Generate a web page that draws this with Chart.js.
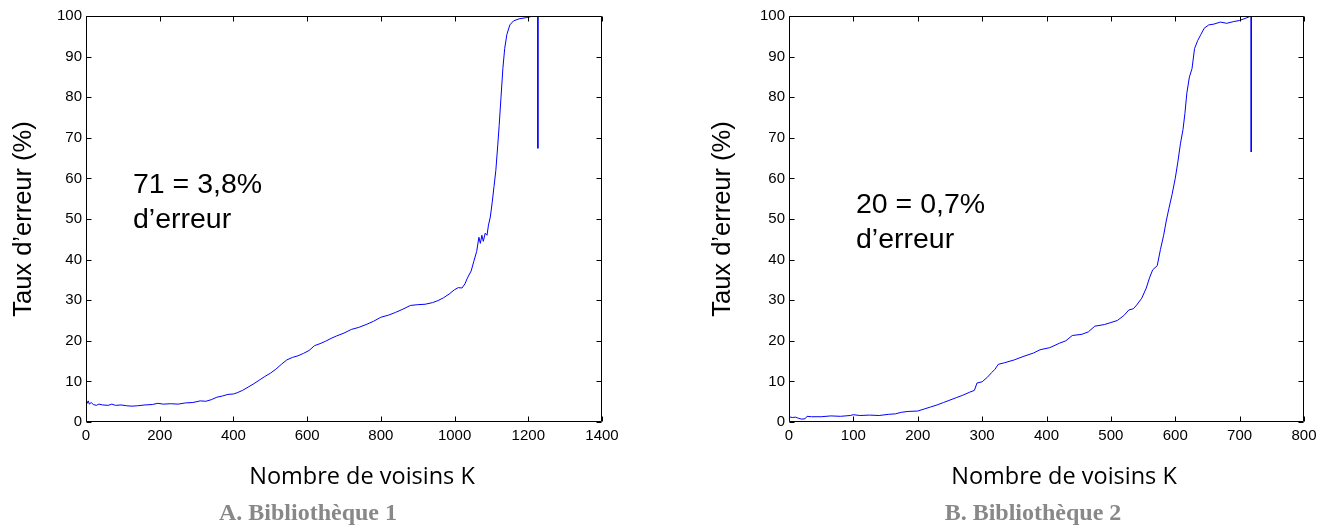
<!DOCTYPE html>
<html>
<head>
<meta charset="utf-8">
<script src="https://cdn.jsdelivr.net/npm/chart.js@4.4.1/dist/chart.umd.min.js"></script>
<style>
  body { margin: 0; background: #fff; }
  .box { position: absolute; top: 0; height: 528px; }
  #boxA { left: 0; width: 640px; }
  #boxB { left: 703px; width: 631px; }
</style>
</head>
<body>
<div class="box" id="boxA"><canvas id="chartA"></canvas></div>
<div class="box" id="boxB"><canvas id="chartB"></canvas></div>
<script>
// Bibliothèque 1
const kA = [0, 3, 6, 9, 14, 20, 28, 35, 45, 60, 70, 80, 95, 110, 125, 140, 160, 180, 195, 210,
  230, 250, 270, 290, 310, 325, 340, 355, 370, 385, 400, 410, 425, 440, 455, 470, 485, 500, 515, 530,
  545, 560, 575, 590, 605, 620, 635, 650, 665, 680, 700, 720, 740, 760, 780, 800, 820, 840, 860, 880,
  900, 920, 940, 955, 970, 985, 1000, 1010, 1020, 1028, 1035, 1045, 1052, 1060, 1066, 1070, 1074, 1078, 1083, 1088,
  1092, 1097, 1102, 1107, 1112, 1117, 1121, 1126, 1131, 1136, 1142, 1150, 1160, 1175, 1195, 1210, 1226, 1226];
const errA = [5.6, 4.6, 5.2, 4.4, 4.8, 4.3, 4.1, 4.4, 4.2, 4.1, 4.4, 4.1, 4.2, 4.0, 3.9, 4.0, 4.2, 4.3, 4.6, 4.4,
  4.5, 4.4, 4.7, 4.8, 5.2, 5.1, 5.5, 6.1, 6.4, 6.8, 6.9, 7.2, 7.8, 8.6, 9.4, 10.3, 11.2, 12.0, 13.0, 14.2,
  15.3, 15.9, 16.3, 16.9, 17.6, 18.8, 19.3, 19.9, 20.6, 21.2, 21.9, 22.8, 23.3, 24.0, 24.8, 25.8, 26.3, 27.0, 27.8, 28.7,
  28.9, 29.0, 29.4, 29.9, 30.6, 31.5, 32.6, 33.1, 33.0, 34.0, 35.5, 37.2, 39.5, 42.0, 45.5, 44.0, 46.0, 44.5, 46.5, 46.0,
  48.5, 50.5, 54.0, 58.0, 62.0, 68.0, 73.0, 80.0, 87.0, 92.0, 95.5, 97.8, 98.8, 99.3, 99.6, 99.9, 100, 67.4];
const xTicksA = [0, 200, 400, 600, 800, 1000, 1200, 1400];

// Bibliothèque 2
const kB = [0, 5, 10, 15, 20, 25, 28, 35, 50, 65, 80, 95, 100, 110, 125, 140, 155, 165, 175, 185,
  200, 210, 220, 230, 240, 250, 260, 270, 280, 288, 292, 300, 308, 315, 320, 325, 335, 350, 365, 380,
  390, 405, 420, 430, 440, 455, 465, 475, 490, 500, 510, 520, 528, 535, 540, 548, 555, 560, 565, 572,
  577, 582, 586, 590, 595, 600, 604, 608, 612, 615, 618, 622, 626, 630, 635, 640, 645, 652, 660, 670,
  680, 690, 700, 710, 718, 718];
const errB = [1.3, 1.1, 1.2, 0.9, 0.7, 0.8, 1.4, 1.3, 1.3, 1.5, 1.4, 1.6, 1.8, 1.6, 1.7, 1.6, 1.9, 2.0, 2.4, 2.6,
  2.7, 3.2, 3.7, 4.2, 4.8, 5.4, 6.0, 6.6, 7.3, 7.8, 9.6, 9.9, 11.0, 12.2, 13.0, 14.2, 14.6, 15.3, 16.2, 17.0,
  17.8, 18.3, 19.4, 20.0, 21.3, 21.6, 22.2, 23.6, 24.0, 24.5, 25.0, 26.2, 27.6, 27.9, 28.8, 30.5, 33.0, 35.5, 37.5, 38.5,
  42.5, 46.0, 49.5, 52.5, 56.0, 60.0, 64.0, 68.5, 72.0, 76.0, 81.0, 85.0, 87.0, 92.0, 94.0, 95.5, 97.0, 97.8, 98.0, 98.5,
  98.2, 98.6, 98.9, 99.5, 100, 66.5];
const xTicksB = [0, 100, 200, 300, 400, 500, 600, 700, 800];

const yTicks = [0, 10, 20, 30, 40, 50, 60, 70, 80, 90, 100];

// box round the plot with inward ticks on all four sides
const boxTicks = {
  id: 'boxTicks',
  afterDatasetsDraw(chart) {
    const {ctx, chartArea: a, scales: {x, y}} = chart;
    const L = Math.round(a.left) + 0.5, R = Math.round(a.right) - 0.5;
    const T = Math.round(a.top) + 0.5, B = Math.round(a.bottom) - 0.5;
    ctx.save();
    ctx.strokeStyle = '#000';
    ctx.lineWidth = 1;
    ctx.beginPath();
    ctx.rect(L, T, R - L, B - T);
    x.ticks.forEach(t => {
      const px = Math.round(x.getPixelForValue(t.value)) + 0.5;
      ctx.moveTo(px, B); ctx.lineTo(px, B - 5);
      ctx.moveTo(px, T); ctx.lineTo(px, T + 5);
    });
    y.ticks.forEach(t => {
      const py = Math.round(y.getPixelForValue(t.value)) + 0.5;
      ctx.moveTo(L, py); ctx.lineTo(L + 5, py);
      ctx.moveTo(R, py); ctx.lineTo(R - 5, py);
    });
    ctx.stroke();
    ctx.restore();
  }
};

// x title, note and caption
const extraText = {
  id: 'extraText',
  afterDraw(chart, args, o) {
    const ctx = chart.ctx;
    ctx.save();
    ctx.textBaseline = 'alphabetic';
    ctx.fillStyle = '#000';
    ctx.font = '23.5px "Open Sans"';
    ctx.textAlign = 'center';
    ctx.fillText(o.xTitle, o.xTitleX, 484);
    ctx.font = '28.5px "Liberation Sans"';
    ctx.textAlign = 'left';
    o.note.forEach((s, i) => ctx.fillText(s, o.noteX, o.noteY + i * 35));
    ctx.font = 'bold 24px "Liberation Serif"';
    ctx.fillStyle = '#888';
    ctx.textAlign = 'center';
    ctx.fillText(o.caption, o.captionX, 520);
    ctx.restore();
  }
};

function makeChart(id, ks, errs, xTicks, xMax, padRight, titlePad, extra) {
  return new Chart(document.getElementById(id), {
    type: 'line',
    data: {
      datasets: [{
        data: ks.map((k, i) => ({x: k, y: errs[i]})),
        borderColor: '#0000ff',
        borderWidth: 1,
        pointRadius: 0,
        tension: 0
      }]
    },
    options: {
      responsive: true,
      maintainAspectRatio: false,
      animation: false,
      layout: {padding: {top: 16, right: padRight, bottom: 0, left: 0}},
      plugins: {legend: {display: false}, tooltip: {enabled: false}, extraText: extra},
      scales: {
        x: {
          type: 'linear', min: 0, max: xMax,
          afterBuildTicks: s => { s.ticks = xTicks.map(v => ({value: v})); },
          afterFit: s => { s.height = 106; },
          grid: {display: false, drawTicks: false},
          border: {display: false},
          ticks: {
            color: '#000', padding: 5, maxRotation: 0,
            font: {family: 'Liberation Sans', size: 15},
            callback: v => String(v)
          }
        },
        y: {
          type: 'linear', min: 0, max: 100,
          afterBuildTicks: s => { s.ticks = yTicks.map(v => ({value: v})); },
          afterFit: s => { s.width = 86; },
          grid: {display: false, drawTicks: false},
          border: {display: false},
          ticks: {color: '#000', padding: 4, font: {family: 'Liberation Sans', size: 15}},
          title: {
            display: true, text: 'Taux d’erreur (%)', color: '#000',
            padding: {top: titlePad, bottom: 0},
            font: {family: 'Liberation Sans', size: 25.5}
          }
        }
      }
    },
    plugins: [boxTicks, extraText]
  });
}

makeChart('chartA', kA, errA, xTicksA, 1400, 38, 9, {
  xTitle: 'Nombre de voisins K', xTitleX: 362,
  note: ['71 = 3,8%', 'd’erreur'], noteX: 133, noteY: 193,
  caption: 'A. Bibliothèque 1', captionX: 308
});
makeChart('chartB', kB, errB, xTicksB, 800, 30, 5, {
  xTitle: 'Nombre de voisins K', xTitleX: 361,
  note: ['20 = 0,7%', 'd’erreur'], noteX: 153, noteY: 213,
  caption: 'B. Bibliothèque 2', captionX: 330
});
</script>
</body>
</html>
